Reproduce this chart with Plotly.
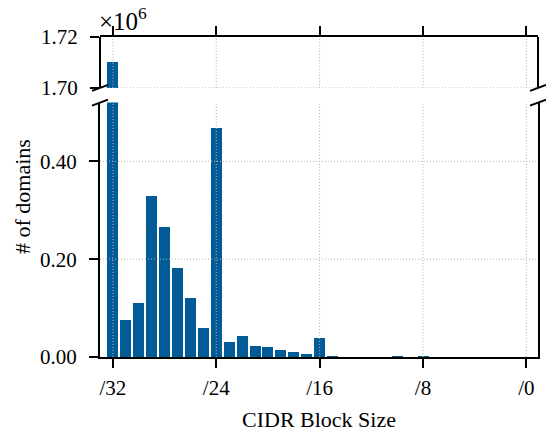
import plotly.graph_objects as go

# CIDR prefix lengths and number of domains (counts)
prefix = list(range(32, -1, -1))
domains = [1710000, 76000, 111000, 329000, 266000, 182000, 121000, 60000,
           468000, 31000, 43500, 23000, 21000, 15000, 11000, 7000,
           39000, 3000, 0, 0, 0, 0, 2000, 0, 2000, 0, 0, 0, 0, 0, 0, 0, 0]
x_ticks = [32, 24, 16, 8, 0]
x_ticklabels = ["/32", "/24", "/16", "/8", "/0"]
y_ticks_low = [0.0, 0.2, 0.4]
y_ticks_high = [1.70, 1.72]
scale = 1e6

vals = [d / scale for d in domains]
BAR = "#005b96"
FONT = "'Liberation Serif', 'Times New Roman', serif"
W, H = 546, 432
ml, mr, mt, mb = 100, 8, 37, 75
low_top = 0.795
high_bot = 0.841

fig = go.Figure()
for xa, ya in [("x", "y"), ("x2", "y2")]:
    fig.add_trace(go.Bar(x=prefix, y=vals, xaxis=xa, yaxis=ya, width=0.85,
                         marker=dict(color=BAR, line=dict(width=0)),
                         showlegend=False))

axis_common = dict(showline=True, linecolor="black", linewidth=2,
                   ticks="outside", ticklen=9, tickwidth=2, tickcolor="black",
                   showgrid=False, zeroline=False, automargin=False,
                   tickfont=dict(family=FONT, size=21, color="black"))

fig.update_layout(
    width=W, height=H,
    margin=dict(l=ml, r=mr, t=mt, b=mb, autoexpand=False),
    plot_bgcolor="white", paper_bgcolor="white",
    bargap=0,
    font=dict(family=FONT, color="black"),
    xaxis=dict(axis_common, range=[33, -0.9], tickvals=x_ticks,
               ticktext=x_ticklabels, anchor="y", ticklabelstandoff=2,
               title=dict(text="CIDR Block Size", standoff=14,
                          font=dict(family=FONT, size=22, color="black"))),
    yaxis=dict(axis_common, domain=[0, low_top], range=[0, 0.52],
               tickvals=y_ticks_low, tickformat=".2f", mirror=True,
               anchor="x", ticklabelstandoff=8),
    xaxis2=dict(axis_common, range=[33, -0.9], tickvals=x_ticks,
                showticklabels=False, side="top", anchor="y2",
                matches="x"),
    yaxis2=dict(axis_common, domain=[high_bot, 1], range=[1.70, 1.72],
                tickvals=y_ticks_high, tickformat=".2f", mirror=True,
                anchor="x2", ticklabelstandoff=8, showline=False),
)

shapes = []
grid = dict(color="#b4b4b4", width=1, dash="1px,2px")
# vertical grid lines (above bars)
for t in x_ticks:
    for xr, yr in [("x", "y domain"), ("x2", "y2 domain")]:
        shapes.append(dict(type="line", xref=xr, yref=yr, x0=t, x1=t, y0=0, y1=1,
                           line=grid, layer="above"))
for t in y_ticks_low[1:]:
    shapes.append(dict(type="line", xref="x domain", yref="y", x0=0, x1=1, y0=t, y1=t,
                       line=grid, layer="above"))
shapes.append(dict(type="line", xref="x2 domain", yref="y2", x0=0, x1=1,
                   y0=y_ticks_high[0], y1=y_ticks_high[0], line=grid, layer="above"))
# top panel frame: left and right spines
line_k = dict(color="black", width=2)
shapes.append(dict(type="line", xref="x2 domain", yref="y2 domain", x0=0, x1=0, y0=0, y1=1, line=line_k, layer="above"))
shapes.append(dict(type="line", xref="x2 domain", yref="y2 domain", x0=1, x1=1, y0=0, y1=1, line=line_k, layer="above"))
# break marks
for xd in [0, 1]:
    for yd in [low_top, high_bot]:
        shapes.append(dict(type="line", xref="paper", yref="paper",
                           xsizemode="pixel", ysizemode="pixel",
                           xanchor=xd, yanchor=yd,
                           x0=-8, x1=8, y0=-3, y1=3,
                           line=line_k, layer="above"))
fig.update_layout(shapes=shapes)

fig.add_annotation(text="×10<sup>6</sup>", xref="paper", yref="paper",
                   x=0, y=1, xanchor="left", yanchor="bottom", yshift=0, xshift=-3,
                   showarrow=False, font=dict(family=FONT, size=25, color="black"))
fig.add_annotation(text="# of domains", xref="paper", yref="paper",
                   x=0, y=0.5, xshift=-78, xanchor="center", yanchor="middle",
                   textangle=-90,
                   showarrow=False, font=dict(family=FONT, size=22, color="black"))

fig.write_html("out.html")
